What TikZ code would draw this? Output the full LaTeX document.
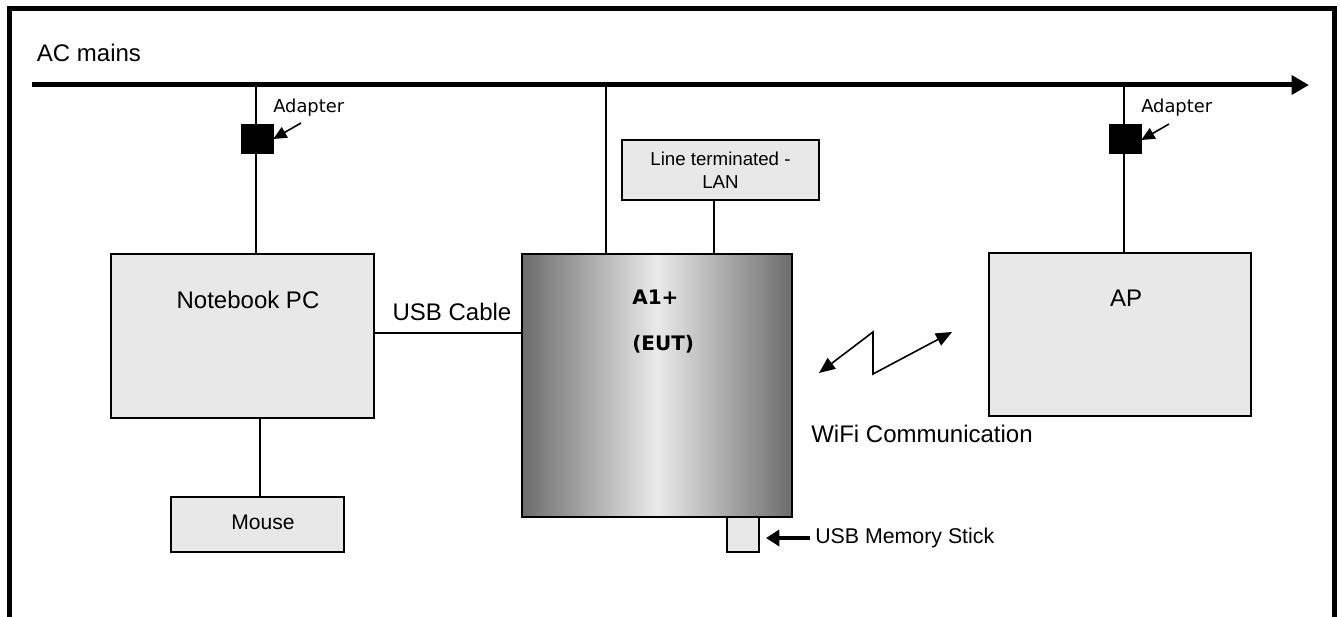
\documentclass[tikz,border=0pt]{standalone}
\usepackage{fontspec}
\setmainfont{Liberation Sans}
\newfontfamily\vfont{DejaVu Sans}
\usetikzlibrary{arrows.meta}
\definecolor{boxgray}{HTML}{E8E8E8}
\definecolor{darkedge}{HTML}{6C6C6C}
\definecolor{lightmid}{HTML}{EAEAEA}
\tikzset{
  box/.style={draw=black, line width=1.2pt, fill=boxgray, rectangle, inner sep=0pt},
  conn/.style={line width=1.2pt},
  adapterbox/.style={fill=black, draw=black, rectangle, inner sep=0pt, minimum width=24pt, minimum height=22pt},
  bigtxt/.style={font=\fontsize{18}{21}\selectfont, inner sep=0pt},
  midtxt/.style={font=\fontsize{14}{17}\selectfont, inner sep=0pt, align=center},
  smalltxt/.style={font=\vfont\fontsize{13.4}{16}\selectfont, inner sep=0pt},
  boldtxt/.style={font=\vfont\bfseries\fontsize{15}{18}\selectfont, inner sep=0pt},
  tri/.style={-{Triangle[length=10pt,width=9pt]}},
}
\begin{document}
\begin{tikzpicture}[x=0.75pt,y=-0.75pt]
\useasboundingbox[fill=white] (0,0) rectangle (1340,617);
% frame
\draw[line width=3.75pt] (9,617) -- (9,9) -- (1334,9) -- (1334,617);
% AC mains
\coordinate (mainsS) at (32,85);
\coordinate (mainsE) at (1309,85);
\draw[line width=3.75pt, -{Triangle[length=13pt,width=14pt]}] (mainsS) -- (mainsE);
\node[bigtxt] (acm) at (89,53) {AC mains};
% boxes
\node[box, minimum width=263*0.75pt, minimum height=164*0.75pt] (nb) at (242.5,336) {};
\node[bigtxt] (nbt) at (248,300) {Notebook PC};
\node[box, minimum width=173*0.75pt, minimum height=55*0.75pt] (mouse) at (257.5,524.5) {};
\node[font=\fontsize{15.8}{18}\selectfont, inner sep=0pt] (mouset) at (263,522) {Mouse};
\node[draw=black, line width=1.5pt, rectangle, inner sep=0pt, minimum width=270*0.75pt, minimum height=263*0.75pt,
  left color=darkedge, right color=darkedge, middle color=lightmid] (eut) at (657,385.5) {};
\node[boldtxt, anchor=west] (a1) at (632,297) {A1+};
\node[boldtxt, anchor=west] (eutt) at (632,344) {(EUT)};
\node[box, minimum width=197*0.75pt, minimum height=60*0.75pt] (lan) at (720.5,170) {};
\node[midtxt] (lant) at (720.5,170) {Line terminated -\\LAN};
\node[box, minimum width=262*0.75pt, minimum height=163*0.75pt] (ap) at (1120,334.5) {};
\node[bigtxt] (apt) at (1126,298) {AP};
\node[box, minimum width=32*0.75pt, minimum height=35*0.75pt] (stick) at (743,534.5) {};
% adapters
\node[adapterbox] (adL) at (257,138.5) {};
\node[adapterbox] (adR) at (1125,138.5) {};
% helper coordinates
\coordinate (tapL) at (256,85);
\coordinate (tapE) at (606,85);
\coordinate (tapR) at (1124,85);
\coordinate (xlan) at (714,0);
\coordinate (xmouse) at (260,0);
\coordinate (yusb) at (0,333);
\coordinate (yadL) at (0,139);
\coordinate (yadR) at (0,140);
% connectors
\draw[conn] (tapL) -- (tapL |- adL.north);
\draw[conn] (tapL |- adL.south) -- (tapL |- nb.north);
\draw[conn] (tapE) -- (tapE |- eut.north);
\draw[conn] (tapR) -- (tapR |- adR.north);
\draw[conn] (tapR |- adR.south) -- (tapR |- ap.north);
\draw[conn] (xlan |- lan.south) -- (xlan |- eut.north);
\draw[conn] (xmouse |- nb.south) -- (xmouse |- mouse.north);
\draw[conn] (nb.east |- yusb) -- (eut.west |- yusb);
\node[bigtxt] (usbc) at (452,312) {USB Cable};
% adapter arrows
\coordinate (aLt) at (301,123);
\coordinate (aRt) at (1169,124);
\draw[conn, tri] (aLt) -- (adL.east |- yadL);
\draw[conn, tri] (aRt) -- (adR.east |- yadR);
\node[smalltxt, anchor=west] (adLt) at (273,108) {Adapter};
\node[smalltxt, anchor=west] (adRt) at (1141,108) {Adapter};
% USB memory stick
\coordinate (stickT) at (810,538);
\coordinate (stickH) at (766,538);
\draw[line width=2.6pt, -{Triangle[length=10pt,width=12pt]}] (stickT) -- (stickH);
\node[font=\fontsize{16}{19}\selectfont, inner sep=0pt, anchor=west] (stickt) at (815,538) {USB Memory Stick};
% WiFi
\coordinate (w1) at (819,373);
\coordinate (w2) at (873,332);
\coordinate (w3) at (873,374);
\coordinate (w4) at (952,332);
\draw[conn, {Triangle[length=12pt,width=10pt]}-{Triangle[length=12pt,width=10pt]}] (w1) -- (w2) -- (w3) -- (w4);
\node[bigtxt] (wifit) at (922,434) {WiFi Communication};
\end{tikzpicture}
\end{document}
